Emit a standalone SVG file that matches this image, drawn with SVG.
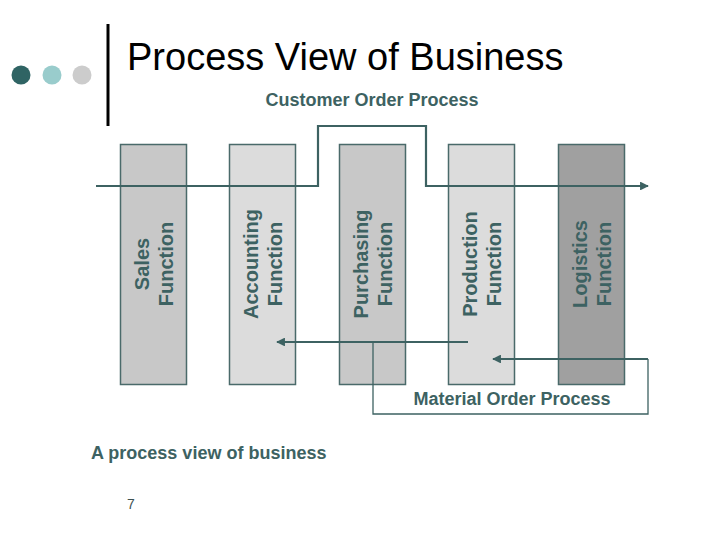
<svg xmlns="http://www.w3.org/2000/svg" width="720" height="540" viewBox="0 0 720 540">
<style>
.box{stroke:#4a6a6a;stroke-width:1.5}
.lbl{font-family:"Liberation Sans",Arial,sans-serif;font-weight:bold;font-size:20px;fill:#3d6262;text-anchor:middle}
.sub{font-family:"Liberation Sans",Arial,sans-serif;font-weight:bold;font-size:18px;fill:#3d6262}
.flow{fill:none;stroke:#3d6262;stroke-width:2.2}
.thin{fill:none;stroke:#3d6262;stroke-width:1.3}
</style>
<defs>
<marker id="ah" viewBox="0 0 10 10" refX="9" refY="5" markerWidth="4" markerHeight="4" orient="auto" markerUnits="strokeWidth">
<path d="M0,0 L10,5 L0,10 z" fill="#3d6262"/>
</marker>
</defs>
<rect width="720" height="540" fill="#ffffff"/>
<g id="header">
<circle cx="21" cy="75" r="9.5" fill="#2f6464"/>
<circle cx="52" cy="75" r="9.5" fill="#99cccc"/>
<circle cx="82" cy="75" r="9.5" fill="#cccccc"/>
<line x1="108" y1="24" x2="108" y2="126" stroke="#000" stroke-width="3"/>
<text x="127" y="70" font-family="'Liberation Sans',Arial,sans-serif" font-size="38" fill="#000">Process View of Business</text>
<text class="sub" x="372" y="106" text-anchor="middle">Customer Order Process</text>
</g>
<g id="sales">
<rect class="box" x="120.5" y="144.5" width="66" height="240" fill="#c8c8c8"/>
<text class="lbl" transform="translate(153.5,264) rotate(-90)"><tspan x="0" y="-5">Sales</tspan><tspan x="0" y="19">Function</tspan></text>
</g>
<g id="accounting">
<rect class="box" x="229.5" y="144.5" width="66" height="240" fill="#dcdcdc"/>
<text class="lbl" transform="translate(262.5,264) rotate(-90)"><tspan x="0" y="-5">Accounting</tspan><tspan x="0" y="19">Function</tspan></text>
</g>
<g id="purchasing">
<rect class="box" x="339.5" y="144.5" width="66" height="240" fill="#c8c8c8"/>
<text class="lbl" transform="translate(372.5,264) rotate(-90)"><tspan x="0" y="-5">Purchasing</tspan><tspan x="0" y="19">Function</tspan></text>
</g>
<g id="production">
<rect class="box" x="448.5" y="144.5" width="66" height="240" fill="#dcdcdc"/>
<text class="lbl" transform="translate(481.5,264) rotate(-90)"><tspan x="0" y="-5">Production</tspan><tspan x="0" y="19">Function</tspan></text>
</g>
<g id="logistics">
<rect class="box" x="558.5" y="144.5" width="66" height="240" fill="#a0a0a0"/>
<text class="lbl" transform="translate(591.5,264) rotate(-90)"><tspan x="0" y="-5">Logistics</tspan><tspan x="0" y="19">Function</tspan></text>
</g>
<g id="connectors">
<path class="flow" d="M96,186 H318 V126 H426 V186 H648" marker-end="url(#ah)"/>
<path class="flow" d="M468,342 H277" marker-end="url(#ah)"/>
<path class="thin" d="M373,342 V414 H648 V359"/>
<path class="flow" d="M648,359 H493" marker-end="url(#ah)"/>
</g>
<text class="sub" x="512" y="405" text-anchor="middle">Material Order Process</text>
<text class="sub" x="91" y="459">A process view of business</text>
<text x="127" y="508.5" font-family="'Liberation Sans',Arial,sans-serif" font-size="14" fill="#3d5050">7</text>
</svg>
